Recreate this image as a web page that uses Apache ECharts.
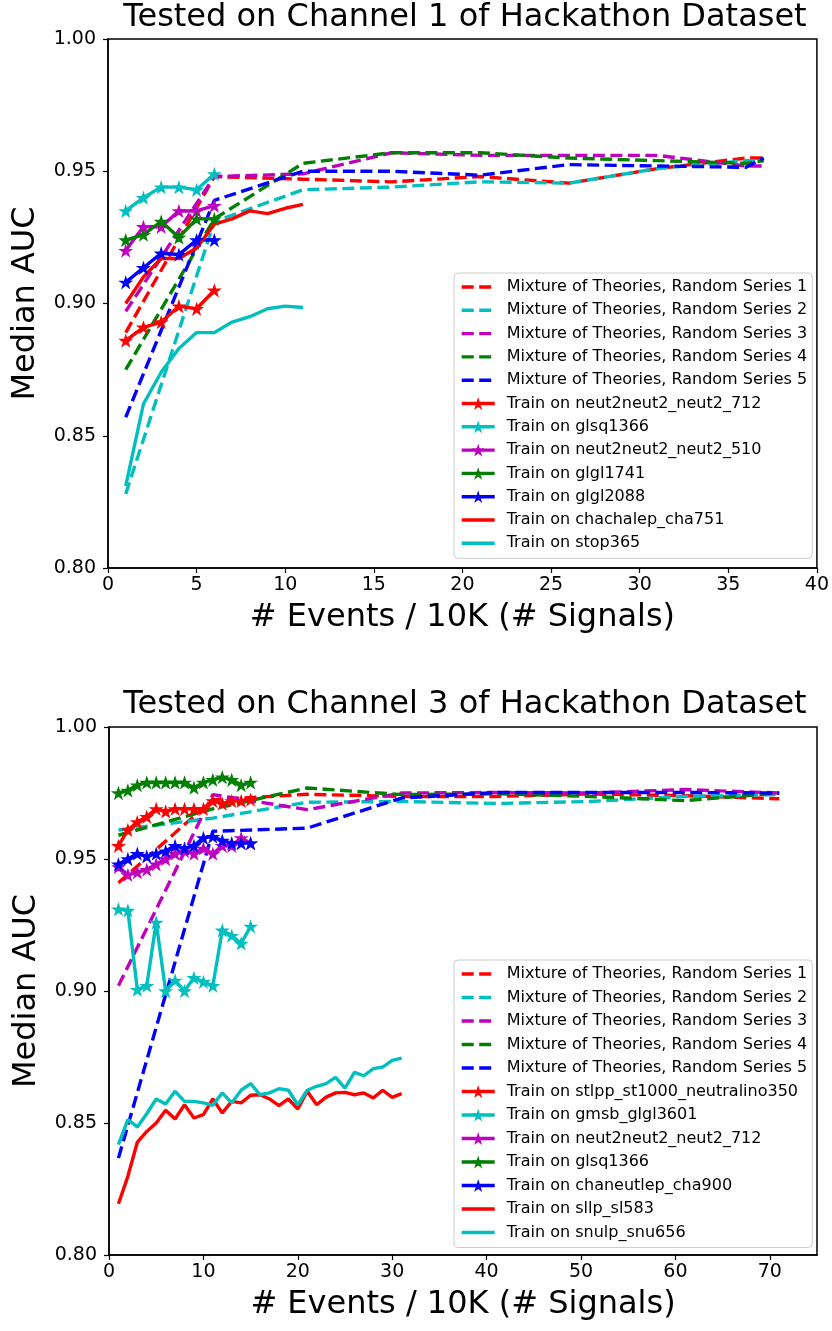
<!DOCTYPE html>
<html>
<head>
<meta charset="utf-8">
<script src="https://cdn.jsdelivr.net/npm/echarts@6/dist/echarts.min.js"></script>
<style>
  html, body { margin: 0; padding: 0; background: #fff; }
  #chart { width: 832px; height: 1331px; }
</style>
</head>
<body>
<div id="chart"></div>
<script>
// ---- top panel: channel 1 ----
const topMixX = [1, 6, 11, 16, 21, 26, 31, 36, 37];
const topMix1 = [0.889, 0.948, 0.947, 0.946, 0.948, 0.9455, 0.951, 0.955, 0.955];
const topMix2 = [0.828, 0.931, 0.943, 0.944, 0.946, 0.9455, 0.951, 0.954, 0.954];
const topMix3 = [0.897, 0.948, 0.949, 0.957, 0.956, 0.956, 0.956, 0.952, 0.952];
const topMix4 = [0.875, 0.932, 0.953, 0.957, 0.957, 0.955, 0.954, 0.953, 0.954];
const topMix5 = [0.857, 0.939, 0.950, 0.950, 0.9485, 0.9525, 0.952, 0.9515, 0.955];

const topStarX = [1, 2, 3, 4, 5, 6];
const topNeut712 = [0.886, 0.891, 0.893, 0.899, 0.898, 0.905];
const topGlsq1366 = [0.935, 0.940, 0.944, 0.944, 0.943, 0.949];
const topNeut510 = [0.920, 0.929, 0.929, 0.935, 0.935, 0.937];
const topGlgl1741 = [0.924, 0.926, 0.931, 0.925, 0.932, 0.932];
const topGlgl2088 = [0.908, 0.9135, 0.919, 0.9185, 0.924, 0.924];

const topSolidX = [1, 2, 3, 4, 5, 6, 7, 8, 9, 10, 11];
const topCha751 = [0.900, 0.910, 0.917, 0.917, 0.921, 0.930, 0.932, 0.935, 0.934, 0.936, 0.9375];
const topStop365 = [0.831, 0.862, 0.874, 0.883, 0.889, 0.889, 0.893, 0.895, 0.898, 0.899, 0.8985];

// ---- bottom panel: channel 3 ----
const botMixX = [1, 11, 21, 31, 41, 51, 61, 71];
const botMix1 = [0.941, 0.9725, 0.9745, 0.9737, 0.9737, 0.9746, 0.974, 0.9728];
const botMix2 = [0.961, 0.9655, 0.9715, 0.9718, 0.971, 0.9718, 0.9737, 0.9744];
const botMix3 = [0.902, 0.9744, 0.9687, 0.975, 0.9752, 0.975, 0.9763, 0.975];
const botMix4 = [0.959, 0.969, 0.9769, 0.9744, 0.9747, 0.9737, 0.9721, 0.975];
const botMix5 = [0.8367, 0.9605, 0.9617, 0.9731, 0.9752, 0.9752, 0.9752, 0.975];

const botStarX = [1, 2, 3, 4, 5, 6, 7, 8, 9, 10, 11, 12, 13, 14, 15];
const botStlpp = [0.955, 0.961, 0.964, 0.966, 0.969, 0.968, 0.969, 0.969, 0.969, 0.969, 0.972, 0.971, 0.972, 0.972, 0.9725];
const botGmsb = [0.931, 0.9305, 0.9005, 0.902, 0.926, 0.900, 0.904, 0.900, 0.905, 0.9035, 0.902, 0.923, 0.921, 0.918, 0.9245];
const botNeut712 = [0.947, 0.944, 0.945, 0.946, 0.948, 0.950, 0.952, 0.953, 0.952, 0.954, 0.952, 0.955, 0.955, 0.958, 0.956];
const botGlsq1366 = [0.975, 0.976, 0.978, 0.979, 0.979, 0.979, 0.979, 0.979, 0.977, 0.979, 0.980, 0.981, 0.980, 0.978, 0.979];
const botCha900 = [0.948, 0.950, 0.952, 0.951, 0.952, 0.953, 0.955, 0.954, 0.955, 0.958, 0.9585, 0.957, 0.956, 0.956, 0.956];

const botSolidX = [1, 2, 3, 4, 5, 6, 7, 8, 9, 10, 11, 12, 13, 14, 15, 16, 17, 18, 19, 20, 21, 22, 23, 24, 25, 26, 27, 28, 29, 30, 31];
const botSl583 = [0.8194, 0.8298, 0.8427, 0.8468, 0.8500, 0.8548, 0.8515, 0.8569, 0.8519, 0.8532, 0.8591,
  0.8538, 0.8582, 0.8576, 0.8605, 0.8607, 0.8591, 0.8566, 0.8591, 0.8553, 0.8620, 0.8569, 0.8598, 0.8614,
  0.8616, 0.8607, 0.8614, 0.8595, 0.8624, 0.8597, 0.8611];
const botSnu656 = [0.8418, 0.8513, 0.8485, 0.8535, 0.8591, 0.8572, 0.8620, 0.8582, 0.8582, 0.8576, 0.8567,
  0.8614, 0.8576, 0.8624, 0.8649, 0.8607, 0.8614, 0.8630, 0.8624, 0.8569, 0.8624, 0.8639, 0.8649, 0.8673,
  0.8632, 0.8692, 0.8679, 0.8706, 0.8712, 0.8737, 0.8746];

const topXTicks = [0, 5, 10, 15, 20, 25, 30, 35, 40];
const botXTicks = [0, 10, 20, 30, 40, 50, 60, 70];

const C = { r: '#ff0000', c: '#00bfbf', m: '#bf00bf', g: '#008000', b: '#0000ff' };
const FONT = 'DejaVu Sans';
const LW = 3.4;

// matplotlib-like '*' marker
function starPath() {
  const pts = [];
  for (let i = 0; i < 10; i++) {
    const r = i % 2 ? 0.381966 : 1;
    const a = Math.PI / 2 + i * Math.PI / 5;
    pts.push((50 + 50 * r * Math.cos(a)).toFixed(2) + ',' + (50 - 50 * r * Math.sin(a)).toFixed(2));
  }
  return 'path://M' + pts.join('L') + 'Z';
}
const STAR = starPath();

const zip = (xs, ys) => xs.map((x, i) => [x, ys[i]]);

function dashed(name, color, xs, ys, idx) {
  return {
    name, type: 'line', xAxisIndex: idx, yAxisIndex: idx,
    data: zip(xs, ys), symbol: 'none', animation: false,
    lineStyle: { color, width: LW, type: [12, 5.5], cap: 'butt' },
    itemStyle: { color }
  };
}
function starred(name, color, xs, ys, idx) {
  return {
    name, type: 'line', xAxisIndex: idx, yAxisIndex: idx,
    data: zip(xs, ys), symbol: STAR, symbolSize: 15, symbolKeepAspect: true,
    animation: false,
    lineStyle: { color, width: LW },
    itemStyle: { color }
  };
}
function solid(name, color, xs, ys, idx) {
  return {
    name, type: 'line', xAxisIndex: idx, yAxisIndex: idx,
    data: zip(xs, ys), symbol: 'none', animation: false,
    lineStyle: { color, width: LW },
    itemStyle: { color }
  };
}

const mixNames = [1, 2, 3, 4, 5].map(i => 'Mixture of Theories, Random Series ' + i);
const mixColors = [C.r, C.c, C.m, C.g, C.b];

const topSeries = [
  ...[topMix1, topMix2, topMix3, topMix4, topMix5].map((ys, i) => dashed(mixNames[i], mixColors[i], topMixX, ys, 0)),
  starred('Train on neut2neut2_neut2_712', C.r, topStarX, topNeut712, 0),
  starred('Train on glsq1366', C.c, topStarX, topGlsq1366, 0),
  starred('Train on neut2neut2_neut2_510', C.m, topStarX, topNeut510, 0),
  starred('Train on glgl1741', C.g, topStarX, topGlgl1741, 0),
  starred('Train on glgl2088', C.b, topStarX, topGlgl2088, 0),
  solid('Train on chachalep_cha751', C.r, topSolidX, topCha751, 0),
  solid('Train on stop365', C.c, topSolidX, topStop365, 0)
];

const botSeries = [
  ...[botMix1, botMix2, botMix3, botMix4, botMix5].map((ys, i) => dashed(mixNames[i], mixColors[i], botMixX, ys, 1)),
  starred('Train on stlpp_st1000_neutralino350', C.r, botStarX, botStlpp, 1),
  starred('Train on gmsb_glgl3601', C.c, botStarX, botGmsb, 1),
  starred('Train on neut2neut2_neut2_712', C.m, botStarX, botNeut712, 1),
  starred('Train on glsq1366', C.g, botStarX, botGlsq1366, 1),
  starred('Train on chaneutlep_cha900', C.b, botStarX, botCha900, 1),
  solid('Train on sllp_sl583', C.r, botSolidX, botSl583, 1),
  solid('Train on snulp_snu656', C.c, botSolidX, botSnu656, 1)
];

function legendItems(series) {
  return series.map(s => ({
    name: s.name,
    itemStyle: { color: s.itemStyle.color, opacity: s.symbol === 'none' ? 0 : 1 },
    lineStyle: { color: s.lineStyle.color, width: LW, type: s.lineStyle.type }
  }));
}

function legend(series, top, gap) {
  return {
    orient: 'vertical', left: 454, top,
    data: legendItems(series),
    itemWidth: 33, itemHeight: 16, itemGap: gap,
    padding: [6, 5, 7, 6],
    borderColor: '#cccccc', borderWidth: 1, borderRadius: 4,
    backgroundColor: '#ffffff',
    textStyle: { fontFamily: FONT, fontSize: 16, color: '#000', padding: [0, 0, 0, 7] },
    selectedMode: false
  };
}

function xAxis(idx, max, ticks) {
  return {
    type: 'value', gridIndex: idx, min: 0, max,
    name: '# Events / 10K (# Signals)', nameLocation: 'middle', nameGap: 34,
    nameTextStyle: { fontFamily: FONT, fontSize: 32, color: '#000' },
    axisLine: { show: true, lineStyle: { color: '#000', width: 1.5 } },
    axisTick: { show: true, length: 5, customValues: ticks, lineStyle: { color: '#000', width: 1.2 } },
    axisLabel: { fontFamily: FONT, fontSize: 19, color: '#000', margin: 8, customValues: ticks },
    splitLine: { show: false }
  };
}
function yAxis(idx) {
  return {
    type: 'value', gridIndex: idx, min: 0.8, max: 1.0, interval: 0.05,
    name: 'Median AUC', nameLocation: 'middle', nameGap: 66,
    nameTextStyle: { fontFamily: FONT, fontSize: 32, color: '#000' },
    axisLine: { show: true, lineStyle: { color: '#000', width: 1.5 } },
    axisTick: { show: true, length: 5, lineStyle: { color: '#000', width: 1.2 } },
    axisLabel: { fontFamily: FONT, fontSize: 19, color: '#000', margin: 12,
      formatter: v => v.toFixed(2) },
    splitLine: { show: false }
  };
}

const chart = echarts.init(document.getElementById('chart'), null, { renderer: 'canvas' });
chart.setOption({
  backgroundColor: '#fff',
  animation: false,
  graphic: [
    { type: 'text', x: 465, y: 18, style: { text: 'Tested on Channel 1 of Hackathon Dataset',
      font: '32px "DejaVu Sans"', fill: '#000', align: 'center', verticalAlign: 'middle' } },
    { type: 'text', x: 465, y: 705, style: { text: 'Tested on Channel 3 of Hackathon Dataset',
      font: '32px "DejaVu Sans"', fill: '#000', align: 'center', verticalAlign: 'middle' } }
  ],
  grid: [
    { left: 108, top: 39, width: 710, height: 529, show: true, borderColor: '#000', borderWidth: 1.5 },
    { left: 109, top: 727, width: 708, height: 528, show: true, borderColor: '#000', borderWidth: 1.5 }
  ],
  xAxis: [xAxis(0, 40, topXTicks), xAxis(1, 75, botXTicks)],
  yAxis: [yAxis(0), yAxis(1)],
  legend: [legend(topSeries, 273, 7.3), legend(botSeries, 960, 7.5)],
  series: [...topSeries, ...botSeries]
});
</script>
</body>
</html>
